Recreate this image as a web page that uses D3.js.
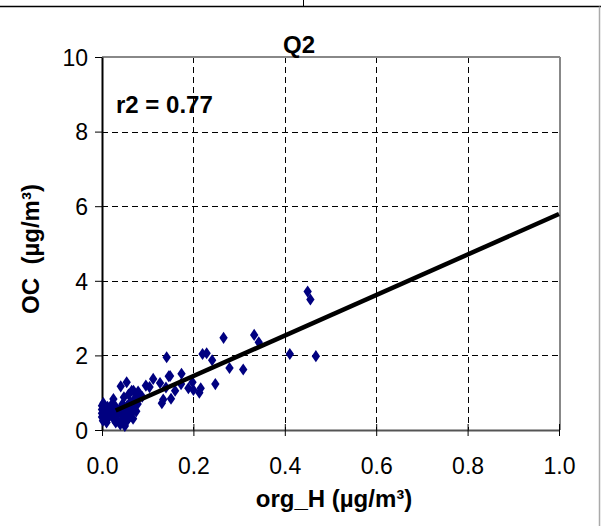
<!DOCTYPE html>
<html><head><meta charset="utf-8">
<script src="https://cdn.jsdelivr.net/npm/d3@7"></script>
<style>body{margin:0;background:#fff}svg{display:block}text{font-family:"Liberation Sans",Arial,sans-serif}</style>
</head><body>
<script>
const xTicks = [0, 0.2, 0.4, 0.6, 0.8, 1.0];
const yTicks = [0, 2, 4, 6, 8, 10];
const orgH = [0.000,0.000,0.000,0.000,0.002,0.003,0.005,0.005,0.008,0.008,0.010,0.012,0.012,0.015,0.018,0.020,0.022,0.025,0.025,0.028,0.030,0.030,0.033,0.035,0.038,0.040,0.042,0.045,0.045,0.048,0.050,0.050,0.052,0.055,0.055,0.058,0.060,0.060,0.062,0.065,0.065,0.068,0.070,0.072,0.075,0.078,0.080,0.041,0.054,0.069,0.079,0.088,0.096,0.104,0.112,0.127,0.131,0.134,0.140,0.146,0.151,0.160,0.173,0.174,0.189,0.198,0.200,0.213,0.216,0.220,0.229,0.241,0.248,0.266,0.279,0.309,0.333,0.343,0.411,0.1415,0.149,0.450,0.456,0.468];
const oc   = [0.35,0.45,0.55,0.65,0.25,0.72,0.40,0.60,0.30,0.50,0.20,0.45,0.62,0.35,0.55,0.40,0.70,0.30,0.83,0.50,0.20,0.62,0.40,0.25,0.55,0.15,0.45,0.30,0.70,0.88,0.11,0.55,0.40,0.25,0.65,0.95,0.35,0.50,0.75,0.45,1.05,0.30,0.60,0.85,0.50,0.70,1.00,1.17,1.28,1.05,1.03,0.89,1.19,1.15,1.37,1.26,0.72,0.82,1.14,1.44,0.84,1.05,1.23,1.51,1.12,1.28,1.07,1.00,1.12,2.04,2.06,1.87,1.23,2.47,1.66,1.62,2.55,2.35,2.04,1.95,1.45,3.71,3.50,1.98];
const slope = 5.43, intercept = 0.36;
const fitX = [0.03, 1.0];

const W = 601, H = 526;
const svg = d3.select("body").append("svg").attr("width", W).attr("height", H);
const L = 102, R = 559, T = 57, B = 430;
const x = d3.scaleLinear().domain([0, 1]).range([L, R]);
const y = d3.scaleLinear().domain([0, 10]).range([B, T]);

// outer frame lines
svg.append("line").attr("x1",0).attr("x2",W).attr("y1",6.5).attr("y2",6.5).attr("stroke","#000").attr("stroke-width",1.5);
svg.append("line").attr("x1",303.5).attr("x2",303.5).attr("y1",0).attr("y2",6.5).attr("stroke","#000").attr("stroke-width",1);
svg.append("line").attr("x1",599.5).attr("x2",599.5).attr("y1",6.5).attr("y2",H).attr("stroke","#aaa").attr("stroke-width",1.5);

// gridlines
const g = svg.append("g");
g.selectAll(".vg").data(xTicks.filter(d=>d>0&&d<1)).join("line")
  .attr("x1",d=>Math.round(x(d))+0.5).attr("x2",d=>Math.round(x(d))+0.5).attr("y1",T).attr("y2",B)
  .attr("stroke","#000").attr("stroke-dasharray","6,4");
g.selectAll(".hg").data(yTicks.filter(d=>d>0&&d<10)).join("line")
  .attr("y1",d=>Math.round(y(d))+0.5).attr("y2",d=>Math.round(y(d))+0.5).attr("x1",L).attr("x2",R)
  .attr("stroke","#000").attr("stroke-dasharray","6,4");

// plot border top/right gray
svg.append("line").attr("x1",L).attr("x2",R+1).attr("y1",T).attr("y2",T).attr("stroke","#888").attr("stroke-width",2);
svg.append("line").attr("x1",R+1).attr("x2",R+1).attr("y1",T).attr("y2",B).attr("stroke","#888").attr("stroke-width",2);

// axes
const xa = svg.append("g").attr("transform",`translate(0,${B})`)
  .call(d3.axisBottom(x).tickValues(xTicks).tickFormat(d3.format(".1f")).tickSize(6).tickSizeOuter(0));
xa.select(".domain").attr("stroke","#555").attr("stroke-width",2);
xa.selectAll(".tick line").attr("y1",-6).attr("y2",6).attr("stroke","#000");
xa.selectAll(".tick text").attr("font-size",23).attr("dy",0).attr("y",44).attr("fill","#000");

const ya = svg.append("g").attr("transform",`translate(${L},0)`)
  .call(d3.axisLeft(y).tickValues(yTicks).tickFormat(d3.format("d")).tickSize(7).tickSizeOuter(0));
ya.select(".domain").attr("stroke","#000").attr("stroke-width",2);
ya.selectAll(".tick line").attr("stroke","#000");
ya.selectAll(".tick text").attr("font-size",23).attr("x",-14).attr("dy","0.36em").attr("fill","#000");

// points
svg.append("g").selectAll("path").data(orgH.map((v,i)=>[v,oc[i]])).join("path")
  .attr("d", d3.symbol(d3.symbolDiamond, 42))
  .attr("transform", d=>`translate(${x(d[0])},${y(d[1])}) scale(1.2,1)`)
  .attr("fill","#000080");

// fit line
svg.append("line")
  .attr("x1",x(fitX[0])).attr("y1",y(intercept+slope*fitX[0]))
  .attr("x2",x(fitX[1])).attr("y2",y(intercept+slope*fitX[1]))
  .attr("stroke","#000").attr("stroke-width",4.5);

// texts
svg.append("text").attr("x",299).attr("y",53).attr("text-anchor","middle").attr("font-size",24).attr("font-weight","bold").text("Q2");
svg.append("text").attr("x",116).attr("y",113).attr("font-size",24).attr("font-weight","bold").text("r2 = 0.77");
svg.append("text").attr("x",334).attr("y",507).attr("text-anchor","middle").attr("font-size",24).attr("font-weight","bold").text("org_H (µg/m³)");
svg.append("text").attr("transform","translate(39,249) rotate(-90)").attr("text-anchor","middle").attr("font-size",24).attr("font-weight","bold").attr("xml:space","preserve").text("OC  (µg/m³)");
</script>
</body></html>
